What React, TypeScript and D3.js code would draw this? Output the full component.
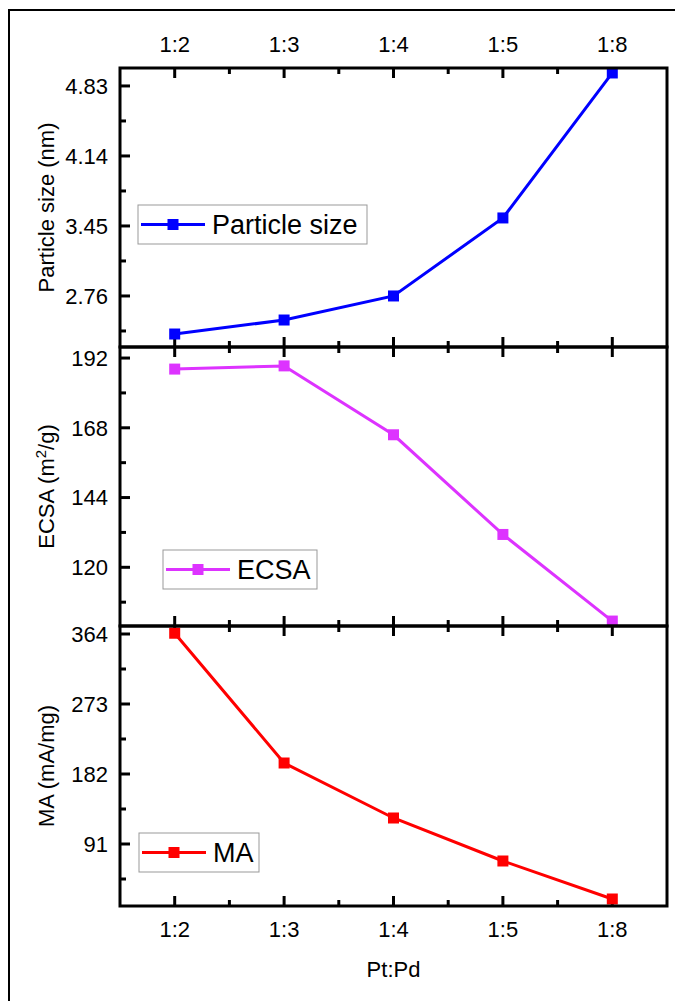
import React from 'react'
import * as d3 from 'd3'

const ratios = ['1:2', '1:3', '1:4', '1:5', '1:8']
const particleSize = [2.385, 2.523, 2.76, 3.529, 4.958]
const ecsa = [188.2, 189.3, 165.6, 131.3, 101.5]
const massActivity = [365, 196.3, 124.8, 68.9, 19.5]

const particleTicks = [2.76, 3.45, 4.14, 4.83]
const ecsaTicks = [120, 144, 168, 192]
const maTicks = [91, 182, 273, 364]

const FONT = 'Liberation Sans, Arial, sans-serif'
const left = 120
const right = 667
const xScale = d3.scaleLinear().domain([-0.5, ratios.length - 0.5]).range([left, right])

const panels = [
    {
        key: 'ps', values: particleSize, ticks: particleTicks, domain: [2.257, 5.007], top: 68, bottom: 347,
        color: '#0000ff', fmt: d3.format('.2f'), legend: 'Particle size',
        box: { x: 138, y: 205, w: 229, h: 39 },
    },
    {
        key: 'ecsa', values: ecsa, ticks: ecsaTicks, domain: [99.8, 195.8], top: 347, bottom: 626,
        color: '#dd33ff', fmt: d3.format('d'), legend: 'ECSA',
        box: { x: 163, y: 550, w: 154, h: 39 },
    },
    {
        key: 'ma', values: massActivity, ticks: maTicks, domain: [10.4, 374.4], top: 626, bottom: 906,
        color: '#ff0000', fmt: d3.format('d'), legend: 'MA',
        box: { x: 139, y: 833, w: 120, h: 39 },
    },
]

const Panel = ({ p, first, last }: any) => {
    const y = d3.scaleLinear().domain(p.domain).range([p.bottom, p.top])
    const step = p.ticks[1] - p.ticks[0]
    const minors = [p.ticks[0] - step / 2, ...p.ticks.map((t: number) => t + step / 2)]
        .filter((v: number) => v > p.domain[0] && v < p.domain[1])
    const xMajor = ratios.map((_, i) => i)
    const xMinor = ratios.slice(1).map((_, i) => i + 0.5)
    const line = d3.line<number>().x((_, i) => xScale(i)).y(d => y(d))
    const b = p.box
    const cy = b.y + b.h / 2
    return (
        <g>
            {/* left axis ticks */}
            {p.ticks.map((t: number) => (
                <g key={'yt' + t}>
                    <line x1={left} x2={left + 10} y1={y(t)} y2={y(t)} stroke="#000" strokeWidth={3} />
                    <text x={left - 12} y={y(t)} dy="0.36em" textAnchor="end" fontSize={22} fontFamily={FONT}>{p.fmt(t)}</text>
                </g>
            ))}
            {minors.map((t: number) => (
                <line key={'ym' + t} x1={left} x2={left + 6} y1={y(t)} y2={y(t)} stroke="#000" strokeWidth={3} />
            ))}
            {/* top and bottom ticks, pointing inward */}
            {xMajor.map(i => (
                <g key={'xt' + i}>
                    <line x1={xScale(i)} x2={xScale(i)} y1={p.top} y2={p.top + 10} stroke="#000" strokeWidth={3} />
                    <line x1={xScale(i)} x2={xScale(i)} y1={p.bottom} y2={p.bottom - 10} stroke="#000" strokeWidth={3} />
                </g>
            ))}
            {xMinor.map(i => (
                <g key={'xm' + i}>
                    <line x1={xScale(i)} x2={xScale(i)} y1={p.top} y2={p.top + 6} stroke="#000" strokeWidth={3} />
                    <line x1={xScale(i)} x2={xScale(i)} y1={p.bottom} y2={p.bottom - 6} stroke="#000" strokeWidth={3} />
                </g>
            ))}
            {first && ratios.map((r, i) => (
                <text key={'tl' + r} x={xScale(i)} y={52} textAnchor="middle" fontSize={22} fontFamily={FONT}>{r}</text>
            ))}
            {last && ratios.map((r, i) => (
                <text key={'bl' + r} x={xScale(i)} y={937} textAnchor="middle" fontSize={22} fontFamily={FONT}>{r}</text>
            ))}
            {/* data */}
            <path d={line(p.values) || ''} fill="none" stroke={p.color} strokeWidth={3} />
            {p.values.map((v: number, i: number) => (
                <rect key={'pt' + i} x={xScale(i) - 5.5} y={y(v) - 5.5} width={11} height={11} fill={p.color} />
            ))}
            {/* legend */}
            <rect x={b.x} y={b.y} width={b.w} height={b.h} fill="#fff" stroke="#999" strokeWidth={1} />
            <line x1={b.x + 3} x2={b.x + 67} y1={cy} y2={cy} stroke={p.color} strokeWidth={3} />
            <rect x={b.x + 35 - 5.5} y={cy - 5.5} width={11} height={11} fill={p.color} />
            <text x={b.x + 74} y={cy} dy="0.36em" fontSize={27} fontFamily={FONT}>{p.legend}</text>
            {/* frame */}
            <rect x={left} y={p.top} width={right - left} height={p.bottom - p.top} fill="none" stroke="#000" strokeWidth={3} />
        </g>
    )
}

export default function App() {
    const mid = (p: any) => (p.top + p.bottom) / 2
    return (
        <svg width={675} height={1001} viewBox="0 0 675 1001"
            style={{ position: 'absolute', left: 0, top: 0, background: '#fff' }}>
            <rect x={0} y={0} width={675} height={1001} fill="#fff" />
            <rect x={9} y={10} width={700} height={1000} fill="none" stroke="#000" strokeWidth={2} />
            {panels.map((p, i) => (
                <Panel key={p.key} p={p} first={i === 0} last={i === panels.length - 1} />
            ))}
            <text transform={`translate(54,${mid(panels[0])}) rotate(-90)`} textAnchor="middle" fontSize={22} fontFamily={FONT}>Particle size (nm)</text>
            <text transform={`translate(54,${mid(panels[1])}) rotate(-90)`} textAnchor="middle" fontSize={22} fontFamily={FONT}>
                ECSA (m<tspan dy={-8} fontSize={15}>2</tspan><tspan dy={8}>/g)</tspan>
            </text>
            <text transform={`translate(54,${mid(panels[2])}) rotate(-90)`} textAnchor="middle" fontSize={22} fontFamily={FONT}>MA (mA/mg)</text>
            <text x={(left + right) / 2} y={977} textAnchor="middle" fontSize={22} fontFamily={FONT}>Pt:Pd</text>
        </svg>
    )
}
